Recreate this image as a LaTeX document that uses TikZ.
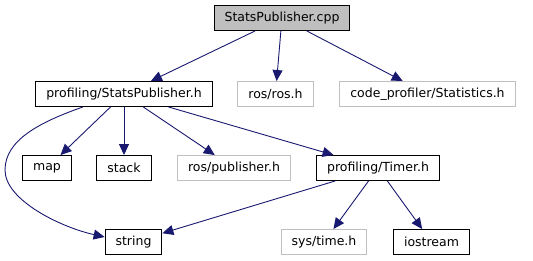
\documentclass[tikz,border=0pt]{standalone}
\usepackage{fontspec}
\setmainfont{DejaVu Sans}
\usetikzlibrary{arrows.meta}
\definecolor{edgeblue}{HTML}{191970}
\definecolor{grayline}{HTML}{BFBFBF}

\begin{document}
\begin{tikzpicture}[x=1pt, y=-1pt,
        file/.style={draw=black, fill=white, line width=0.9pt, minimum height=25pt,
            inner xsep=10.5pt, inner ysep=0pt, font=\fontsize{12.5}{14}\selectfont},
        extfile/.style={file, draw=grayline},
        mainfile/.style={file, fill=grayline},
        inc/.style={draw=edgeblue, line width=0.9pt, -{Triangle[length=11pt,width=10pt]}}]
        \useasboundingbox (0,0) rectangle (533,261);

        % 源文件和头文件
        \node[mainfile] (cpp) at (282,18) {StatsPublisher.cpp};

        \node[file]    (sph)   at (124,94)   {profiling/StatsPublisher.h};
        \node[extfile] (ros)   at (275.5,94) {ros/ros.h};
        \node[extfile] (stats) at (427.5,94) {code\_profiler/Statistics.h};

        \node[file]    (map)   at (47,168)   {map};
        \node[file]    (stack) at (124,168)  {stack};
        \node[extfile] (pub)   at (234,168)  {ros/publisher.h};
        \node[file]    (timer) at (378,168)  {profiling/Timer.h};

        \node[file]    (string)   at (133.5,242) {string};
        \node[extfile] (systime)  at (324,242)   {sys/time.h};
        \node[file]    (iostream) at (431.5,242) {iostream};

        % 包含关系
        \draw[inc] (cpp) -- (sph);
        \draw[inc] (cpp) -- (ros);
        \draw[inc] (cpp) -- (stats);

        \draw[inc] (sph) -- (map);
        \draw[inc] (sph) -- (stack);
        \draw[inc] (sph) -- (pub);
        \draw[inc] (sph) -- (timer);
        \draw[inc] ([xshift=-41pt]sph.south) .. controls (40,122) and (5,140) .. (5,170)
            .. controls (5,200) and (60,227) .. ([yshift=5pt]string.west);

        \draw[inc] (timer) -- (string);
        \draw[inc] (timer) -- (systime);
        \draw[inc] (timer) -- (iostream);
    \end{tikzpicture}
\end{document}
